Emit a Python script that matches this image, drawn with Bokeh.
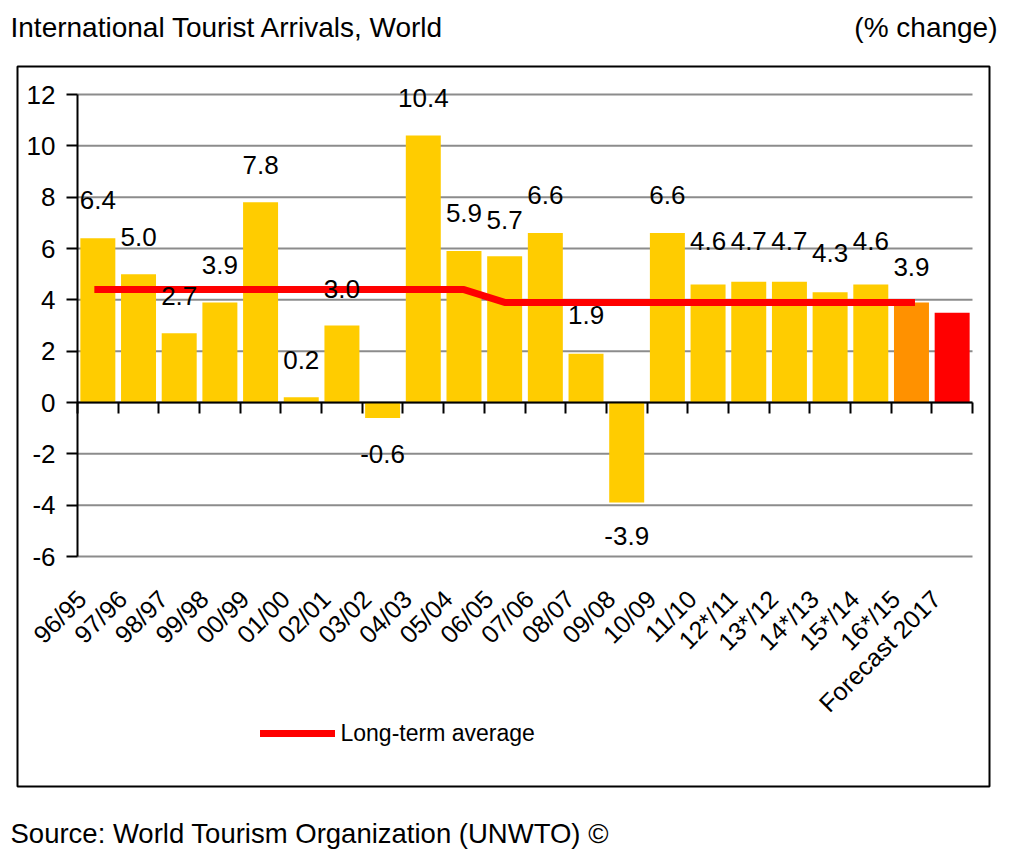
import math
from bokeh.plotting import figure
from bokeh.models import (Range1d, FixedTicker, LinearAxis, Legend, LegendItem, ColumnDataSource)
from bokeh.core.properties import value
from bokeh.embed import file_html
from bokeh.resources import INLINE

# ---------------- data ----------------
categories = ["96/95", "97/96", "98/97", "99/98", "00/99", "01/00", "02/01", "03/02", "04/03",
              "05/04", "06/05", "07/06", "08/07", "09/08", "10/09", "11/10", "12*/11", "13*/12",
              "14*/13", "15*/14", "16*/15", "Forecast 2017"]
pct_change = [6.4, 5.0, 2.7, 3.9, 7.8, 0.2, 3.0, -0.6, 10.4, 5.9, 5.7, 6.6, 1.9, -3.9, 6.6,
              4.6, 4.7, 4.7, 4.3, 4.6, 3.9, 3.5]
# long-term average line (96/95 .. 16*/15)
avg_categories = categories[:21]
avg_values = [4.4, 4.4, 4.4, 4.4, 4.4, 4.4, 4.4, 4.4, 4.4, 4.4,
              3.9, 3.9, 3.9, 3.9, 3.9, 3.9, 3.9, 3.9, 3.9, 3.9, 3.9]
# heights (in % units) at which the value labels sit in the original
label_categories = categories[:21]
label_pos = [7.88, 6.43, 4.13, 5.34, 9.24, 1.64, 4.41, -1.99, 11.85, 7.37, 7.10, 8.07, 3.39,
             -5.19, 8.07, 6.30, 6.30, 6.30, 5.81, 6.28, 5.26]
y_ticks = [-6, -4, -2, 0, 2, 4, 6, 8, 10, 12]

title_text = "International Tourist Arrivals, World"
unit_text = "(% change)"
source_text = "Source: World Tourism Organization (UNWTO) ©"
legend_text = "Long-term average"

FONT = "Liberation Sans"
YELLOW = "#FFCC00"
special = {"16*/15": "#FF9100", "Forecast 2017": "#FF0000"}
colors = [special.get(c, YELLOW) for c in categories]

slot = {c: i for i, c in enumerate(categories)}
n = len(categories)

# ---------------- layout (canvas pixels) ----------------
W, H = 1008, 852
BOX_L, BOX_R, BOX_T, BOX_B = 17, 989, 66, 786     # outer frame box
PLOT_L, PLOT_R, PLOT_T, PLOT_B = 77, 972, 94, 556  # inner plotting area
LABEL_SHIFT = 16                                   # category labels sit left of the slot centre

xmin, xmax = -0.5, n - 0.5
ymin, ymax = y_ticks[0], y_ticks[-1]
ux = (PLOT_R - PLOT_L) / (xmax - xmin)
uy = (PLOT_B - PLOT_T) / (ymax - ymin)


def px2x(px):
    return xmin + (px - PLOT_L) / ux


def px2y(py):
    return ymax - (py - PLOT_T) / uy


p = figure(width=W, height=H, x_range=Range1d(px2x(0), px2x(W)), y_range=Range1d(px2y(H), px2y(0)),
           output_backend="svg", toolbar_location=None, min_border=0)
p.outline_line_color = None
p.background_fill_color = "white"
p.border_fill_color = "white"
p.xgrid.visible = False
p.ygrid.visible = False

# horizontal grid lines limited to the plotting area
p.segment(x0=[xmin] * len(y_ticks), x1=[xmax] * len(y_ticks), y0=y_ticks, y1=y_ticks,
          line_color="#8c8c8c", line_width=2)

# y axis
p.yaxis.fixed_location = xmin
p.yaxis.bounds = (ymin, ymax)
p.yaxis.ticker = FixedTicker(ticks=y_ticks)
p.yaxis.major_label_overrides = {t: str(t) for t in y_ticks}
p.yaxis.axis_line_color = "black"
p.yaxis.axis_line_width = 2
p.yaxis.major_tick_line_color = "black"
p.yaxis.major_tick_line_width = 2
p.yaxis.major_tick_out = 11
p.yaxis.major_tick_in = 0
p.yaxis.minor_tick_line_color = None
p.yaxis.major_label_text_font = FONT
p.yaxis.major_label_text_font_size = "26px"
p.yaxis.major_label_text_color = "black"
p.yaxis.major_label_standoff = 11

# category labels under the plotting area (on a slightly shifted copy of the x scale)
d = LABEL_SHIFT / ux
p.extra_x_ranges = {"labels": Range1d(px2x(0) + d, px2x(W) + d)}
p.xaxis.x_range_name = "labels"
p.xaxis.fixed_location = ymin
p.xaxis.ticker = FixedTicker(ticks=list(range(n)))
p.xaxis.major_label_overrides = {i: c for i, c in enumerate(categories)}
p.xaxis.axis_line_color = None
p.xaxis.major_tick_line_color = None
p.xaxis.minor_tick_line_color = None
p.xaxis.major_label_orientation = math.pi / 4
p.xaxis.major_label_text_font = FONT
p.xaxis.major_label_text_font_size = "25px"
p.xaxis.major_label_text_color = "black"
p.xaxis.major_label_standoff = 32

# zero line with ticks at the category boundaries
bounds = [i - 0.5 for i in range(n + 1)]
zero_axis = LinearAxis(fixed_location=0, bounds=(xmin, xmax), ticker=FixedTicker(ticks=bounds),
                       major_label_text_color=None,
                       axis_line_color="black", axis_line_width=2,
                       major_tick_line_color="black", major_tick_line_width=2,
                       major_tick_out=11, major_tick_in=0, minor_tick_line_color=None)
p.add_layout(zero_axis, "below")

# outer box
p.quad(left=[px2x(BOX_L)], right=[px2x(BOX_R)], top=[px2y(BOX_T)], bottom=[px2y(BOX_B)],
       fill_color=None, line_color="black", line_width=2)

# bars
src = ColumnDataSource(dict(x=[slot[c] for c in categories], val=pct_change, color=colors))
p.vbar(x="x", top="val", bottom=0, width=0.86, fill_color="color", line_color=None, source=src)

# long-term average
avg = p.line([slot[c] for c in avg_categories], avg_values, line_color="#FF0000",
             line_width=7, line_cap="square")

# value labels
lab_src = ColumnDataSource(dict(x=[slot[c] for c in label_categories], y=label_pos,
                                txt=["%.1f" % v for v in pct_change[:len(label_categories)]]))
p.text(x="x", y="y", text="txt", source=lab_src, text_align="center", text_baseline="middle",
       text_font=value(FONT), text_font_size="26px", text_color="black")

# legend (inside the box, below the category labels)
legend = Legend(items=[LegendItem(label=legend_text, renderers=[avg])],
                location=(259.5, H - 748), padding=0, margin=0, spacing=0,
                glyph_width=75, glyph_height=30, label_standoff=6, label_height=30,
                label_text_font=FONT, label_text_font_size="23px", label_text_color="black",
                border_line_color=None, background_fill_alpha=0)
p.add_layout(legend, "center")

# title, unit and source
p.text(x=[px2x(10)], y=[px2y(27)], text=[title_text], text_font=value(FONT),
       text_font_size="28px", text_color="black", text_baseline="middle")
p.text(x=[px2x(997)], y=[px2y(27)], text=[unit_text], text_font=value(FONT), text_align="right",
       text_font_size="28px", text_color="black", text_baseline="middle")
p.text(x=[px2x(10)], y=[px2y(833)], text=[source_text], text_font=value(FONT),
       text_font_size="27.5px", text_color="black", text_baseline="middle")

open("out.html", "w").write(file_html(p, INLINE))
